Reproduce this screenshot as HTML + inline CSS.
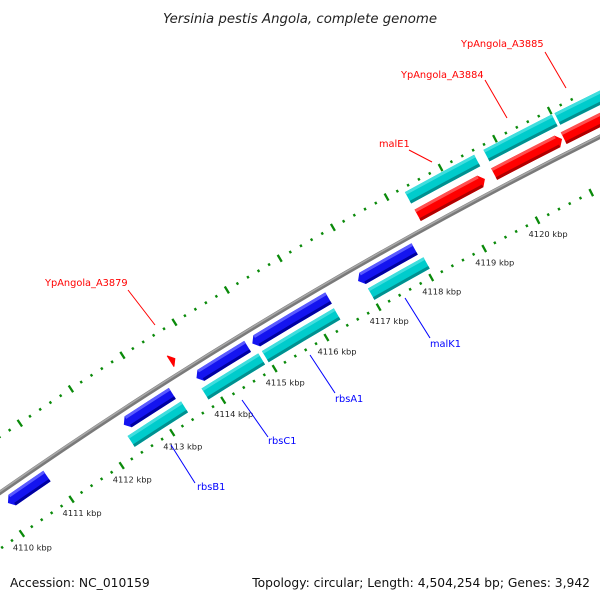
<!DOCTYPE html>
<html><head><meta charset="utf-8"><style>
html,body{margin:0;padding:0;background:#fff;}
svg{display:block;font-family:"DejaVu Sans","Liberation Sans",sans-serif;}
</style></head><body>
<svg id="map" width="600" height="600" viewBox="0 0 600 600">
<text x="300" y="23" text-anchor="middle" font-size="13.3" font-style="italic" fill="#222">Yersinia pestis Angola, complete genome</text>
<g id="ticks"></g>
<g id="backbone"></g>
<g id="features"></g>
<g id="labels"></g>
<text x="10" y="587" font-size="12.3" fill="#111">Accession: NC_010159</text>
<text x="590" y="587" text-anchor="end" font-size="12.3" fill="#111">Topology: circular; Length: 4,504,254 bp; Genes: 3,942</text>
</svg>
<script>
const featStart = [4110.10, 4112.40, 4113.82, 4114.90, 4116.92, 4112.35, 4113.80, 4114.97, 4117.00, 4113.60, 4118.30, 4119.72, 4121.00, 4118.30, 4119.75, 4121.05];
const featEnd   = [4110.88, 4113.35, 4114.81, 4116.36, 4117.99, 4113.40, 4114.90, 4116.35, 4118.05, 4113.70, 4119.55, 4120.97, 4123.00, 4119.58, 4121.00, 4123.00];
const featTrack = ['blue','blue','blue','blue','blue','cyanL','cyanL','cyanL','cyanL','red','red','red','red','cyanU','cyanU','cyanU'];
const tickLabels = [4110,4111,4112,4113,4114,4115,4116,4117,4118,4119,4120];
const labelText = ['YpAngola_A3879','malE1','YpAngola_A3884','YpAngola_A3885','rbsB1','rbsC1','rbsA1','malK1'];
const labelColor = ['red','red','red','red','blue','blue','blue','blue'];

const CX=2702, CY=4364;
const NS='http://www.w3.org/2000/svg';
function ang(k){return (-124.24+(k-4111)*0.74)*Math.PI/180;}
function pt(k,r){const a=ang(k);return [CX+r*Math.cos(a),CY+r*Math.sin(a)];}
function f(p){return p[0].toFixed(2)+' '+p[1].toFixed(2);}
function mk(tag,parent){const e=document.createElementNS(NS,tag);parent.appendChild(e);return e;}
function band(s,e,r0,r1){return 'M'+f(pt(s,r1))+' A'+r1+' '+r1+' 0 0 1 '+f(pt(e,r1))+' L'+f(pt(e,r0))+' A'+r0+' '+r0+' 0 0 0 '+f(pt(s,r0))+' Z';}

// ticks
const tg=document.getElementById('ticks');
[4767,4675].forEach(function(r){
  for(let i=0;i<=60;i++){
    const k=4109.4+i*0.2;
    const major=Math.abs(k-Math.round(k))<0.01;
    const h=major?4:1.3;
    const a=pt(k,r-h),b=pt(k,r+h);
    const l=mk('line',tg);
    
    
    l.setAttribute('x1',a[0]);l.setAttribute('y1',a[1]);l.setAttribute('x2',b[0]);l.setAttribute('y2',b[1]);
    l.setAttribute('stroke','#0a8a0a');l.setAttribute('stroke-width','2.3');
  }
});
tickLabels.forEach(function(k){
  const p=pt(k,4675);
  const t=mk('text',tg);
  
  
  t.setAttribute('x',p[0]-9);t.setAttribute('y',p[1]+17);
  t.setAttribute('font-size','8.3');t.setAttribute('fill','#222');
  t.textContent=k+' kbp';
});

// backbone
const bg=document.getElementById('backbone');
const bb=mk('path',bg);


bb.setAttribute('d','M'+f(pt(4109,4721))+' A4721 4721 0 0 1 '+f(pt(4123,4721)));
bb.setAttribute('fill','none');bb.setAttribute('stroke','#7a7a7a');bb.setAttribute('stroke-width','4.5');
const bl=mk('path',bg);


bl.setAttribute('d','M'+f(pt(4109,4722))+' A4722 4722 0 0 1 '+f(pt(4123,4722)));
bl.setAttribute('fill','none');bl.setAttribute('stroke','#a8a8a8');bl.setAttribute('stroke-width','1.5');

// features
const TR={blue:[4708,'#1414f0','#5a5aff','#0000a0',-1],cyanL:[4690,'#00cccc','#40dede','#009090',0],red:[4736,'#ff0000','#ff5050','#b00000',1],cyanU:[4756,'#00cccc','#40dede','#009090',0]};
const fg=document.getElementById('features');
const AL=0.085, HW=6.5;
for(let i=0;i<featStart.length;i++){
  const tr=TR[featTrack[i]];
  const rc=tr[0],r0=rc-HW,r1=rc+HW,dir=tr[4];
  let s=featStart[i],e=featEnd[i];
  let d, bs=s, be=e;
  if(dir===1){
    be=Math.max(s,e-AL);
    d='M'+f(pt(s,r1))+' A'+r1+' '+r1+' 0 0 1 '+f(pt(be,r1))+' L'+f(pt(e,rc))+' L'+f(pt(be,r0))+' A'+r0+' '+r0+' 0 0 0 '+f(pt(s,r0))+' Z';
  } else if(dir===-1){
    bs=Math.min(e,s+AL);
    d='M'+f(pt(s,rc))+' L'+f(pt(bs,r1))+' A'+r1+' '+r1+' 0 0 1 '+f(pt(e,r1))+' L'+f(pt(e,r0))+' A'+r0+' '+r0+' 0 0 0 '+f(pt(bs,r0))+' Z';
  } else {
    d=band(s,e,r0,r1);
  }
  const p=mk('path',fg);
  
  
  p.setAttribute('d',d);p.setAttribute('fill',tr[1]);
  if(be-bs>0.02){
    const hl=mk('path',fg);
    
    
    hl.setAttribute('d',band(bs,be,r1-3,r1));hl.setAttribute('fill',tr[2]);
    const sh=mk('path',fg);
    
    
    sh.setAttribute('d',band(bs,be,r0,r0+3));sh.setAttribute('fill',tr[3]);
  }
}

// labels with leader lines
const labelPos=[[45,286,128,290,155,325],[379,147,409,150,432,162],[401,78,485,80,507,118],[461,47,545,52,566,88],[197,490,195,483,171,445],[268,444,268,437,242,400],[335,402,335,393,310,355],[430,347,430,338,405,298]];
const lg=document.getElementById('labels');
for(let i=0;i<labelText.length;i++){
  const q=labelPos[i];
  const ln=mk('line',lg);
  
  
  ln.setAttribute('x1',q[2]);ln.setAttribute('y1',q[3]);ln.setAttribute('x2',q[4]);ln.setAttribute('y2',q[5]);
  ln.setAttribute('stroke',labelColor[i]==='red'?'#ff0000':'#0000ff');ln.setAttribute('stroke-width','1');
  const t=mk('text',lg);
  
  
  t.setAttribute('x',q[0]);t.setAttribute('y',q[1]);
  t.setAttribute('font-size','9.8');t.setAttribute('fill',labelColor[i]==='red'?'#ff0000':'#0000ff');
  t.textContent=labelText[i];
}
</script>
</body></html>
